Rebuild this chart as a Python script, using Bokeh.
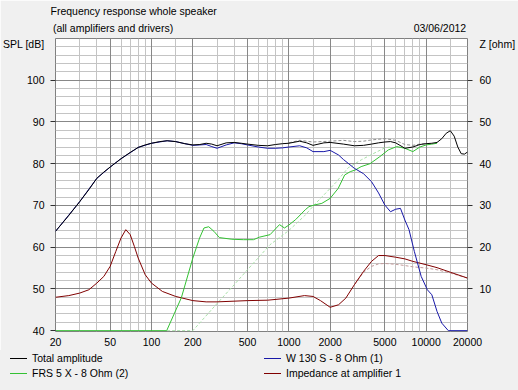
from bokeh.plotting import figure
from bokeh.layouts import column
from bokeh.models import (Range1d, LinearAxis, LogAxis, FixedTicker, Grid, Div,
                          PrintfTickFormatter, Title)
from bokeh.embed import file_html
from bokeh.resources import INLINE

# ---------------- data ----------------
total_f = [20, 25, 30, 35, 40, 45, 50, 60, 70, 80, 90, 100, 115, 130, 150, 175, 200, 225,
           250, 275, 300, 350, 400, 450, 500, 600, 700, 800, 900, 1000, 1200, 1350, 1500,
           1800, 2000, 2500, 3000, 3500, 4000, 4500, 5000, 5500, 6000, 7000, 8000, 9000,
           10000, 11000, 12000, 13000, 14000, 15000, 16000, 17000, 18000, 19000, 20000]
total_db = [63.8, 67.6, 70.9, 73.8, 76.5, 78.0, 79.2, 81.2, 82.7, 83.9, 84.5, 84.9, 85.3,
            85.5, 85.3, 84.8, 84.5, 84.6, 84.9, 84.7, 84.3, 85.0, 85.1, 84.9, 84.7, 84.4,
            84.3, 84.6, 84.8, 84.9, 85.4, 85.0, 84.4, 85.0, 85.1, 84.7, 84.3, 84.4, 84.7,
            85.0, 85.2, 85.3, 85.0, 83.7, 84.0, 84.6, 84.8, 84.9, 85.1, 86.0, 87.3, 87.9,
            86.6, 84.0, 82.4, 82.3, 82.8]

total_ideal_f = [1000, 1200, 1500, 2000, 2500, 3000, 3500, 4000, 5000, 6000, 7000, 8000,
                 9000, 10000]
total_ideal_db = [85.0, 85.6, 85.2, 85.4, 85.6, 85.3, 85.4, 85.7, 86.0, 85.6, 84.6, 84.4,
                  84.7, 84.8]

woofer_f = [20, 30, 40, 50, 60, 80, 100, 130, 150, 175, 200, 225, 250, 275, 300, 350, 400,
            450, 500, 600, 700, 800, 900, 1000, 1200, 1350, 1500, 1800, 2000, 2300, 2500,
            3000, 3500, 4000, 4500, 5000, 5500, 6000, 6500, 7000, 7500, 8200, 9200, 10200,
            11000, 12000, 13000, 14500, 20000]
woofer_db = [63.8, 70.9, 76.5, 79.2, 81.2, 83.9, 84.9, 85.5, 85.3, 84.8, 84.4, 84.5, 84.6,
             84.1, 83.7, 84.5, 85.0, 84.8, 84.5, 84.0, 83.7, 83.7, 83.8, 84.0, 84.3, 83.8,
             82.9, 82.9, 83.2, 82.1, 81.0, 78.9, 77.6, 75.7, 73.0, 70.1, 68.5, 69.1, 69.3,
             66.5, 64.2, 59.0, 53.0, 49.8, 48.6, 44.6, 41.8, 40.0, 40.0]

frs_f = [20, 129, 165, 200, 224, 241, 261, 285, 312, 385, 466, 553, 610, 730, 855, 930,
         1000, 1120, 1320, 1400, 1530, 1740, 2000, 2290, 2550, 2800, 3050, 3360, 3900, 4600,
         5300, 6100, 7000, 8000, 9000, 10000, 11000, 12000]
frs_db = [40.0, 40.0, 47.9, 57.4, 62.2, 64.6, 64.9, 63.8, 62.3, 61.9, 61.8, 61.8, 62.4,
          63.0, 65.4, 64.6, 65.3, 66.6, 69.0, 69.7, 70.1, 70.5, 71.7, 74.1, 77.3, 78.1,
          78.5, 79.3, 80.0, 81.7, 83.3, 84.1, 83.7, 82.9, 84.0, 84.5, 84.7, 84.9]

frs_raw_f = [130, 200, 300, 400, 500, 620, 730, 1000, 1300, 1570, 2200, 2700, 3360, 4000,
             5000, 5500]
frs_raw_db = [40.0, 40.0, 46.5, 51.0, 54.6, 58.0, 60.6, 64.0, 67.5, 70.5, 75.5, 79.0, 80.9,
              82.2, 83.8, 84.0]

imp_f = [20, 25, 30, 35, 40, 45, 50, 55, 60, 65, 70, 75, 80, 90, 100, 120, 150, 200, 250,
         300, 500, 700, 1000, 1300, 1500, 1700, 2000, 2300, 2600, 3000, 3500, 4000, 4500,
         5000, 6000, 7000, 8000, 10000, 12000, 15000, 20000]
imp_ohm = [8.0, 8.4, 9.0, 9.8, 11.4, 13.0, 15.4, 19.0, 22.2, 24.2, 23.0, 20.2, 17.4, 13.4,
           11.4, 9.4, 8.2, 7.2, 6.9, 6.9, 7.2, 7.3, 7.8, 8.4, 8.2, 7.2, 5.6, 6.2, 7.8, 11.0,
           14.2, 16.6, 18.0, 18.0, 17.6, 17.2, 16.6, 15.8, 15.1, 14.0, 12.6]

imp_raw_f = [3000, 3500, 4000, 4500, 5000, 6000, 7000, 8000, 10000, 12000, 15000, 20000]
imp_raw_ohm = [11.0, 14.0, 15.4, 16.0, 16.1, 15.9, 15.6, 15.3, 15.0, 14.6, 13.8, 12.6]

x_ticks = [20, 50, 100, 200, 500, 1000, 2000, 5000, 10000, 20000]
x_grid_major = [50, 100, 200, 500, 1000, 2000, 5000, 10000]
x_grid_minor = [30, 40, 60, 70, 80, 90, 150, 300, 400, 600, 700, 800, 900, 1500, 3000,
                4000, 6000, 7000, 8000, 9000, 15000]
spl_ticks = [40, 50, 60, 70, 80, 90, 100]
spl_minor = [v for v in range(42, 110, 2) if v % 10 != 0]
z_ticks = [10, 20, 30, 40, 50, 60]

title_text = "Frequency response whole speaker"
subtitle_text = "(all amplifiers and drivers)"
date_text = "03/06/2012"
spl_label = "SPL [dB]"
z_label = "Z [ohm]"
spl_label_pos = 108.8      # dB level of the left unit label
z_label_pos = 68.8         # ohm level of the right unit label
subtitle_pos = 52.5        # Hz at the centre of the subtitle
date_pos = 12600           # Hz at the centre of the date

legend_labels = ["Total amplitude", "FRS 5 X - 8 Ohm (2)",
                 "W 130 S - 8 Ohm (1)", "Impedance at amplifier 1"]

FONT = "Liberation Sans"
FS = "10.5px"
BG = "#f0f0f0"
C_TOTAL, C_FRS, C_WOOF, C_IMP = "#000000", "#33c133", "#1818a8", "#800000"

# the SPL scale starts a hair below 40 dB so curves lying on 40 dB stay visible
p = figure(width=518, height=350, x_axis_type="log",
           x_range=Range1d(20, 20000), y_range=Range1d(39.8, 110),
           output_backend="svg", toolbar_location=None,
           min_border_left=52, min_border_right=47, min_border_top=38,
           min_border_bottom=19,
           background_fill_color="white", border_fill_color=BG,
           outline_line_color="#808080")
p.extra_y_ranges = {"z": Range1d(-0.2, 70)}

p.xgrid.visible = False
p.ygrid.visible = False
p.add_layout(Grid(dimension=0, ticker=FixedTicker(ticks=x_grid_minor),
                  grid_line_color="#c4c4c4"))
p.add_layout(Grid(dimension=1, ticker=FixedTicker(ticks=spl_minor),
                  grid_line_color="#c4c4c4"))
p.add_layout(Grid(dimension=0, ticker=FixedTicker(ticks=x_grid_major),
                  grid_line_color="#888888"))
p.add_layout(Grid(dimension=1, ticker=FixedTicker(ticks=spl_ticks[1:]),
                  grid_line_color="#888888"))

def style_text(ax):
    ax.major_label_text_font = FONT
    ax.major_label_text_font_size = FS
    ax.major_label_text_color = "black"
    ax.axis_line_color = None

# bottom x axis
xa = p.xaxis[0]
xa.ticker = FixedTicker(ticks=x_ticks)
xa.formatter = PrintfTickFormatter(format="%d")
xa.major_tick_out = 0
xa.major_tick_in = 0
xa.minor_tick_line_color = None
xa.major_label_standoff = 6
style_text(xa)

# left SPL axis (tick marks drawn as minor ticks, unit label as an extra labelled tick)
ya = p.yaxis[0]
ya.ticker = FixedTicker(ticks=spl_ticks + [spl_label_pos], minor_ticks=spl_ticks)
ya.major_label_overrides = {spl_label_pos: spl_label}
ya.major_tick_out = 0
ya.major_tick_in = 0
ya.minor_tick_out = 5
ya.minor_tick_in = 0
ya.minor_tick_line_color = "#303030"
ya.major_label_standoff = 6
style_text(ya)

# right impedance axis
za = LinearAxis(y_range_name="z",
                ticker=FixedTicker(ticks=z_ticks + [z_label_pos], minor_ticks=z_ticks))
za.major_label_overrides = {z_label_pos: z_label}
za.major_tick_out = 0
za.major_tick_in = 0
za.minor_tick_out = 5
za.minor_tick_in = 0
za.minor_tick_line_color = "#303030"
za.major_label_standoff = 7
style_text(za)
p.add_layout(za, "right")

# top: subtitle + date row, title above it
ta = LogAxis(ticker=FixedTicker(ticks=[subtitle_pos, date_pos]))
ta.major_label_overrides = {subtitle_pos: subtitle_text, date_pos: date_text}
ta.major_tick_out = 0
ta.major_tick_in = 0
ta.minor_tick_line_color = None
ta.major_tick_line_color = None
ta.major_label_standoff = 5
style_text(ta)
p.add_layout(ta, "above")
p.add_layout(Title(text=title_text, align="left", text_font=FONT, text_font_size=FS,
                   text_font_style="normal", text_color="black", standoff=3, offset=-5),
             "above")

# curves
p.line(frs_raw_f, frs_raw_db, color="#a8e0a8", line_width=1, line_dash="3 2")
p.line(imp_raw_f, imp_raw_ohm, y_range_name="z", color="#c09a9a", line_width=1,
       line_dash="3 2")
p.line(total_ideal_f, total_ideal_db, color="#909090", line_width=1, line_dash="3 2")
p.line(imp_f, imp_ohm, y_range_name="z", color=C_IMP, line_width=1)
p.line(frs_f, frs_db, color=C_FRS, line_width=1)
p.line(woofer_f, woofer_db, color=C_WOOF, line_width=1)
p.line(total_f, total_db, color=C_TOTAL, line_width=1)

# legend strip below the chart (two columns, two rows)
legend_colors = [C_TOTAL, C_FRS, C_WOOF, C_IMP]
col_x = [10, 264]
row_y = [8, 23]
parts = []
for i, (lbl, col) in enumerate(zip(legend_labels, legend_colors)):
    x = col_x[i // 2]
    y = row_y[i % 2]
    parts.append(
        f'<div style="position:absolute;left:{x}px;top:{y}px;width:17px;height:0;'
        f'border-top:1px solid {col};"></div>'
        f'<div style="position:absolute;left:{x + 22}px;top:{y - 8}px;line-height:16px;'
        f'white-space:nowrap;">{lbl}</div>')
legend_html = (f'<div style="position:relative;width:518px;height:40px;background:{BG};'
               f"font-family:'{FONT}';font-size:{FS};color:black;\">"
               + "".join(parts) + "</div>")
legend_div = Div(text=legend_html, width=518, height=40, margin=(0, 0, 0, 0),
                 styles={"background-color": BG})

layout = column(p, legend_div, spacing=0)
open("out.html", "w").write(file_html(layout, INLINE))
